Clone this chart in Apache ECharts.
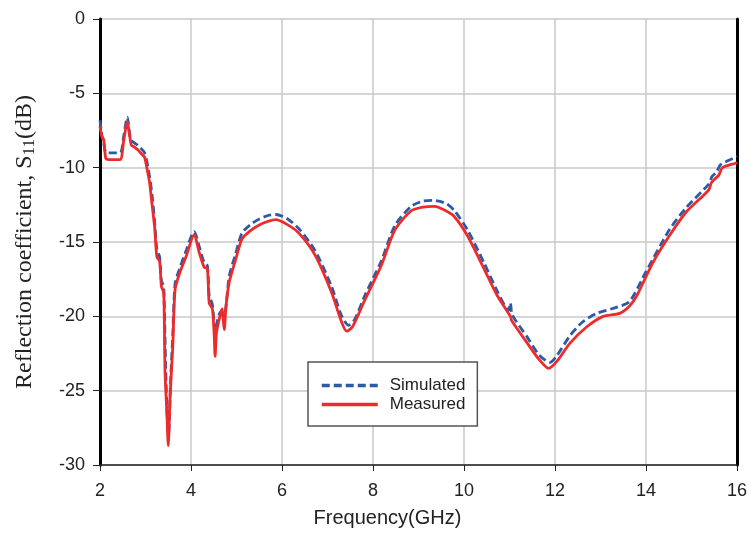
<!DOCTYPE html>
<html>
<head>
<meta charset="utf-8">
<script src="https://cdn.jsdelivr.net/npm/echarts@6/dist/echarts.min.js"></script>
<style>
  html, body { margin: 0; padding: 0; background: #fff; }
  #main { width: 750px; height: 533px; }
</style>
</head>
<body>
<div id="main"></div>
<script>
// 频率 (GHz) 与 S11 (dB)
var freqSim = [2.0, 2.04, 2.08, 2.14, 2.44, 2.52, 2.6, 2.67, 2.74, 2.83, 2.98, 3.09, 3.15, 3.2, 3.25, 3.31, 3.35, 3.4, 3.44, 3.48, 3.51, 3.55, 3.6, 3.65, 3.75, 3.89, 4.07, 4.18, 4.29, 4.36, 4.4, 4.47, 4.53, 4.58, 4.65, 4.73, 4.84, 4.98, 5.12, 5.3, 5.5, 5.71, 5.86, 6.1, 6.37, 6.73, 7.09, 7.3, 7.46, 7.6, 7.82, 8.18, 8.48, 8.84, 9.1, 9.31, 9.6, 9.79, 10.08, 10.44, 10.73, 10.98, 11.02, 11.06, 11.39, 11.65, 11.89, 12.05, 12.33, 12.6, 12.92, 13.35, 13.64, 14.0, 14.51, 14.88, 15.38, 15.45, 15.55, 15.64, 15.97, 16.0];
var simulated = [-6.8, -7.8, -8.3, -9.0, -9.0, -7.9, -6.6, -8.1, -8.3, -8.5, -9.0, -10.6, -12.0, -13.6, -15.5, -16.0, -17.6, -18.0, -23.0, -27.0, -27.8, -24.5, -21.2, -17.8, -16.8, -15.6, -14.3, -15.3, -16.4, -16.6, -18.6, -19.2, -21.0, -20.3, -19.7, -19.9, -17.3, -15.8, -14.4, -13.85, -13.45, -13.2, -13.15, -13.4, -14.1, -15.6, -18.0, -19.9, -20.6, -20.2, -18.6, -16.3, -13.9, -12.6, -12.25, -12.2, -12.4, -12.9, -14.2, -16.4, -18.3, -19.6, -19.1, -19.9, -21.4, -22.6, -23.1, -22.6, -21.3, -20.4, -19.8, -19.4, -19.0, -17.0, -14.2, -12.7, -11.1, -10.6, -10.3, -9.8, -9.3, -9.25];

var freqMeas = [2.0, 2.04, 2.08, 2.13, 2.2, 2.44, 2.52, 2.6, 2.65, 2.69, 2.75, 2.83, 2.92, 2.98, 3.06, 3.09, 3.13, 3.2, 3.25, 3.31, 3.35, 3.4, 3.43, 3.47, 3.5, 3.54, 3.6, 3.65, 3.75, 3.89, 4.07, 4.18, 4.29, 4.36, 4.4, 4.47, 4.51, 4.53, 4.56, 4.62, 4.68, 4.73, 4.77, 4.84, 4.98, 5.12, 5.3, 5.5, 5.71, 5.86, 6.1, 6.37, 6.73, 7.09, 7.3, 7.42, 7.55, 7.82, 8.18, 8.48, 8.84, 9.1, 9.35, 9.6, 9.79, 10.08, 10.44, 10.73, 11.02, 11.05, 11.39, 11.65, 11.86, 12.05, 12.33, 12.7, 13.06, 13.42, 13.64, 13.8, 14.15, 14.51, 14.88, 15.38, 15.44, 15.6, 15.68, 15.97, 16.0];
var measured = [-7.2, -7.9, -8.1, -9.4, -9.46, -9.46, -8.2, -6.9, -7.8, -8.5, -8.6, -8.8, -9.1, -9.3, -10.5, -11.0, -12.1, -14.0, -16.0, -16.3, -18.0, -18.4, -23.8, -26.5, -28.7, -25.4, -22.0, -18.2, -17.1, -16.0, -14.5, -15.7, -16.7, -16.8, -19.1, -19.5, -21.3, -22.7, -21.1, -20.2, -19.5, -20.9, -19.3, -17.7, -16.2, -14.8, -14.25, -13.85, -13.6, -13.5, -13.8, -14.4, -15.9, -18.4, -20.3, -21.0, -20.7, -18.9, -16.6, -14.2, -12.9, -12.65, -12.6, -12.9, -13.3, -14.6, -16.8, -18.6, -20.0, -20.3, -21.8, -22.9, -23.5, -23.0, -21.8, -20.7, -20.0, -19.8, -19.3, -18.6, -16.4, -14.6, -13.0, -11.5, -11.0, -10.5, -10.0, -9.7, -9.65];

function pairs(xs, ys) {
    var out = [];
    for (var i = 0; i < xs.length; i++) out.push([xs[i], ys[i]]);
    return out;
}

var myChart = echarts.init(document.getElementById('main'));

var labelFont = 'Liberation Sans, Arial, sans-serif';
var serifFont = 'Liberation Serif, Times New Roman, serif';

var option = {
    animation: false,
    backgroundColor: '#fff',
    grid: { left: 100, right: 9, top: 19, bottom: 67 },
    legend: {
        left: 308, top: 362,
        orient: 'vertical',
        backgroundColor: '#fff',
        borderColor: '#555',
        borderWidth: 1.5,
        borderRadius: 0,
        padding: [15, 12, 13, 12],
        itemGap: 2,
        itemWidth: 56,
        itemHeight: 14,
        itemStyle: { opacity: 0 },
        lineStyle: { width: 3.5 },
        textStyle: { fontFamily: labelFont, fontSize: 17, color: '#222', padding: [0, 0, 0, 7] },
        data: ['Simulated', 'Measured']
    },
    xAxis: {
        type: 'value',
        min: 2, max: 16, interval: 2,
        name: 'Frequency(GHz)',
        nameLocation: 'middle',
        nameGap: 43,
        nameTextStyle: { fontFamily: labelFont, fontSize: 20, color: '#222', padding: [0, 62, 0, 0] },
        axisLine: { onZero: false, lineStyle: { color: '#222', width: 1.5 } },
        axisTick: { show: true, length: 6, lineStyle: { color: '#222' } },
        axisLabel: { fontFamily: labelFont, fontSize: 18, color: '#222', margin: 17 },
        splitLine: { lineStyle: { color: '#c8c8c8', width: 1.5 } }
    },
    yAxis: [{
        type: 'value',
        min: -30, max: 0, interval: 5,
        name: '{a|Reflection coefficient, S}{s|11}{a|(dB)}',
        nameLocation: 'middle',
        nameRotate: 90,
        nameGap: 62,
        nameTextStyle: {
            rich: {
                a: { fontFamily: serifFont, fontSize: 24, color: '#222' },
                s: { fontFamily: serifFont, fontSize: 17, color: '#222', padding: [9, 0, 0, 0] }
            }
        },
        axisLine: { onZero: false, lineStyle: { color: '#000', width: 3 } },
        axisTick: { show: true, length: 7, lineStyle: { color: '#222' } },
        axisLabel: { fontFamily: labelFont, fontSize: 18, color: '#222', margin: 15 },
        splitLine: { lineStyle: { color: '#c8c8c8', width: 1.5 } }
    }, {
        type: 'value',
        position: 'right',
        min: -30, max: 0, interval: 5,
        axisLine: { show: true, onZero: false, lineStyle: { color: '#000', width: 3 } },
        axisTick: { show: false },
        axisLabel: { show: false },
        splitLine: { show: false }
    }],
    series: [
        {
            name: 'Simulated',
            type: 'line',
            showSymbol: false,
            smooth: 0.25,
            z: 2,
            lineStyle: { color: '#2b5aa8', width: 2.8, type: [8, 4] },
            itemStyle: { color: '#2b5aa8' },
            data: pairs(freqSim, simulated)
        },
        {
            name: 'Measured',
            type: 'line',
            showSymbol: false,
            smooth: 0.25,
            z: 3,
            lineStyle: { color: '#ee2b2b', width: 2.8 },
            itemStyle: { color: '#ee2b2b' },
            data: pairs(freqMeas, measured)
        }
    ]
};
myChart.setOption(option);
</script>
</body>
</html>
